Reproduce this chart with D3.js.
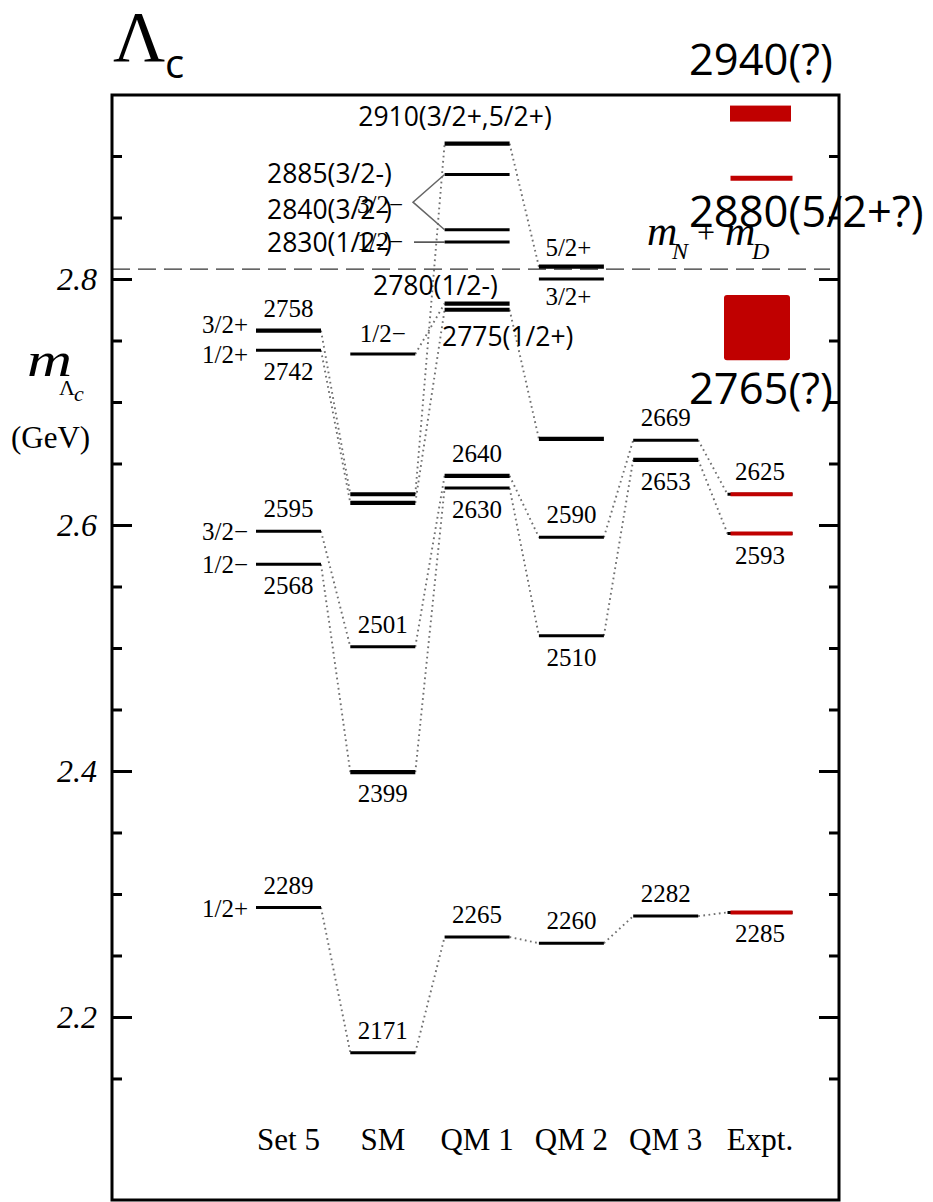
<!DOCTYPE html>
<html>
<head>
<meta charset="utf-8">
<script src="https://cdn.jsdelivr.net/npm/d3@7"></script>
<style>
  body { margin: 0; background: #fff; }
  svg { display: block; }
</style>
</head>
<body>
<script>
// Λc mass spectrum (MeV): model predictions and experimental states
const categories = ["Set 5", "SM", "QM 1", "QM 2", "QM 3", "Expt."];
const set5Levels = [2289, 2568, 2595, 2742, 2758];
const set5Spins  = ["1/2+", "1/2−", "3/2−", "1/2+", "3/2+"];
const smLevels   = [2171, 2399, 2501, 2618, 2625, 2739];
const qm1Levels  = [2265, 2630, 2640, 2775, 2780, 2830, 2840, 2885, 2910];
const qm2Levels  = [2260, 2510, 2590, 2670, 2800, 2810];
const qm3Levels  = [2282, 2653, 2669];
const exptLevels = [2285, 2593, 2625, 2882];
const exptBands  = [[2734, 2787], [2928, 2941]];
const thresholdMass = 2808;               // m_N + m_D
const tickMasses = d3.range(2150, 2901, 50);
const majorTickMasses = [2200, 2400, 2600, 2800];

// chains of levels joined by dotted lines: [from column, mass, to column, mass]
const links = [
  ["Set 5", 2289, "SM", 2171], ["SM", 2171, "QM 1", 2265], ["QM 1", 2265, "QM 2", 2260],
  ["QM 2", 2260, "QM 3", 2282], ["QM 3", 2282, "Expt.", 2285],
  ["Set 5", 2568, "SM", 2399], ["SM", 2399, "QM 1", 2630], ["QM 1", 2630, "QM 2", 2510],
  ["QM 2", 2510, "QM 3", 2653], ["QM 3", 2653, "Expt.", 2593],
  ["Set 5", 2595, "SM", 2501], ["SM", 2501, "QM 1", 2640], ["QM 1", 2640, "QM 2", 2590],
  ["QM 2", 2590, "QM 3", 2669], ["QM 3", 2669, "Expt.", 2625],
  ["Set 5", 2742, "SM", 2618], ["Set 5", 2758, "SM", 2625],
  ["SM", 2625, "QM 1", 2910], ["SM", 2618, "QM 1", 2775], ["SM", 2739, "QM 1", 2780],
  ["QM 1", 2775, "QM 2", 2670], ["QM 1", 2910, "QM 2", 2810]
];

// mass values printed next to their levels
const valueLabels = [
  ["Set 5", 2289, "above"], ["Set 5", 2568, "below"], ["Set 5", 2595, "above"],
  ["Set 5", 2742, "below"], ["Set 5", 2758, "above"],
  ["SM", 2171, "above"], ["SM", 2399, "below"], ["SM", 2501, "above"],
  ["QM 1", 2265, "above"], ["QM 1", 2630, "below"], ["QM 1", 2640, "above"],
  ["QM 2", 2260, "above"], ["QM 2", 2510, "below"], ["QM 2", 2590, "above"],
  ["QM 3", 2282, "above"], ["QM 3", 2653, "below"], ["QM 3", 2669, "above"],
  ["Expt.", 2285, "below"], ["Expt.", 2593, "below"], ["Expt.", 2625, "above"]
];

// state assignments written beside the QM 1 levels and the experimental states
const qm1Notes = [
  [2910, "3/2+,5/2+"], [2885, "3/2-"], [2840, "3/2-"], [2830, "1/2-"],
  [2780, "1/2-"], [2775, "1/2+"]
];
const exptNotes = [["2940", "?"], ["2880", "5/2+?"], ["2765", "?"]];

const levelColumns = [
  ["Set 5", set5Levels], ["SM", smLevels], ["QM 1", qm1Levels],
  ["QM 2", qm2Levels], ["QM 3", qm3Levels]
];

const W = 933, H = 1202;
const serif = "'Liberation Serif', 'Times New Roman', serif";
const sans = "'Open Sans', 'Noto Sans', sans-serif";
const red = "#c00000";

const frame = { left: 112, top: 95, right: 839, bottom: 1200 };

const y = d3.scaleLinear().domain([2051.2, 2949.6]).range([frame.bottom, frame.top]);
const x = d3.scalePoint().domain(categories).range([288.5, 760]);
const half = 32.5;

const heavy = {
  "Set 5": [2758], "SM": [2399, 2618, 2625], "QM 1": [2910, 2775, 2780, 2640],
  "QM 2": [2810, 2670], "QM 3": [2653]
};

const svg = d3.select("body").append("svg").attr("width", W).attr("height", H);

// dotted connectors between columns
svg.append("g").selectAll("line").data(links).join("line")
  .attr("x1", d => x(d[0]) + half).attr("y1", d => y(d[1]))
  .attr("x2", d => x(d[2]) - half).attr("y2", d => y(d[3]))
  .attr("stroke", "#707070").attr("stroke-width", 1.9)
  .attr("stroke-dasharray", "1.7,3.5").attr("stroke-linecap", "butt");

// threshold line
svg.append("line")
  .attr("x1", frame.left).attr("x2", 830)
  .attr("y1", y(thresholdMass)).attr("y2", y(thresholdMass))
  .attr("stroke", "#333").attr("stroke-width", 1.3).attr("stroke-dasharray", "18,8");

// model levels
const levelData = levelColumns.flatMap(([c, arr]) => arr.map(m => ({ c, m })));
svg.append("g").selectAll("line").data(levelData).join("line")
  .attr("x1", d => x(d.c) - half).attr("x2", d => x(d.c) + half)
  .attr("y1", d => y(d.m)).attr("y2", d => y(d.m))
  .attr("stroke", "#000")
  .attr("stroke-width", d => (heavy[d.c] || []).includes(d.m) ? 4.2 : 3);

// experimental levels: thin black underline with red bar
const ex = x("Expt.");
const exptG = svg.append("g");
exptG.selectAll("line.base").data(exptLevels.slice(0, 3)).join("line")
  .attr("class", "base")
  .attr("x1", ex - half).attr("x2", ex + half)
  .attr("y1", d => y(d)).attr("y2", d => y(d))
  .attr("stroke", "#000").attr("stroke-width", 3);
exptG.selectAll("line.red").data(exptLevels).join("line")
  .attr("class", "red")
  .attr("x1", ex - half + 3).attr("x2", ex + half)
  .attr("y1", d => y(d)).attr("y2", d => y(d))
  .attr("stroke", red).attr("stroke-width", (d, i) => i === 3 ? 5 : 4);
exptG.selectAll("rect").data(exptBands).join("rect")
  .attr("x", (d, i) => i === 0 ? ex - 36 : ex - 30)
  .attr("width", (d, i) => i === 0 ? 66 : 61)
  .attr("y", d => y(d[1])).attr("height", d => y(d[0]) - y(d[1]))
  .attr("rx", (d, i) => i === 0 ? 3 : 0)
  .attr("fill", red);

// axes (ticks point inward on both sides)
const axisL = d3.axisLeft(y).tickValues(tickMasses).tickSizeInner(-10).tickSizeOuter(0)
  .tickPadding(15)
  .tickFormat(d => majorTickMasses.includes(d) ? (d / 1000).toFixed(1) : "");
const gL = svg.append("g").attr("transform", `translate(${frame.left},0)`).call(axisL);
gL.select(".domain").remove();
gL.selectAll(".tick line").attr("stroke", "#000").attr("stroke-width", 3)
  .attr("x2", d => majorTickMasses.includes(d) ? 20 : 10);
gL.selectAll(".tick text").attr("font-family", serif).attr("font-style", "italic")
  .attr("font-size", 32).attr("fill", "#000").attr("dy", "0.34em");

const axisR = d3.axisRight(y).tickValues(tickMasses).tickSizeInner(-10).tickSizeOuter(0)
  .tickFormat("");
const gR = svg.append("g").attr("transform", `translate(${frame.right},0)`).call(axisR);
gR.select(".domain").remove();
gR.selectAll(".tick line").attr("stroke", "#000").attr("stroke-width", 3)
  .attr("x2", d => majorTickMasses.includes(d) ? -20 : -10);

// frame
svg.append("rect")
  .attr("x", frame.left).attr("y", frame.top)
  .attr("width", frame.right - frame.left).attr("height", frame.bottom - frame.top)
  .attr("fill", "none").attr("stroke", "#000").attr("stroke-width", 3);

// value labels
svg.append("g").selectAll("text").data(valueLabels).join("text")
  .attr("x", d => x(d[0]))
  .attr("y", d => y(d[1]) + (d[2] === "above" ? -14 : 30))
  .attr("text-anchor", "middle")
  .attr("font-family", serif).attr("font-size", 25)
  .text(d => d[1]);

// spin-parity labels of Set 5
const spinShift = { 2758: 2, 2742: 13 };
svg.append("g").selectAll("text").data(set5Levels).join("text")
  .attr("x", 248).attr("y", d => y(d) + (spinShift[d] ?? 9))
  .attr("text-anchor", "end")
  .attr("font-family", serif).attr("font-size", 25)
  .text((d, i) => set5Spins[i]);

const serifText = (tx, ty, s, anchor = "middle") =>
  svg.append("text").attr("x", tx).attr("y", ty).attr("text-anchor", anchor)
    .attr("font-family", serif).attr("font-size", 25).text(s);

serifText(x("SM"), y(2739) - 12, "1/2−");
serifText(x("QM 2") - 3, y(2810) - 11, "5/2+");
serifText(x("QM 2") - 3, y(2800) + 26, "3/2+");

// QM 1 negative-parity assignments with leader lines
serifText(357, y(2862) + 10, "3/2−", "start");
serifText(357, y(2830) + 8, "1/2−", "start");
const apexX = 413, apexY = (y(2885) + y(2840)) / 2;
const qL = x("QM 1") - half;
svg.append("path")
  .attr("d", `M${qL},${y(2885)}L${apexX},${apexY}L${qL},${y(2840)}`)
  .attr("fill", "none").attr("stroke", "#666").attr("stroke-width", 1.5);
svg.append("line")
  .attr("x1", 414).attr("x2", qL).attr("y1", y(2830)).attr("y2", y(2830))
  .attr("stroke", "#222").attr("stroke-width", 1.3);

// column captions
svg.append("g").selectAll("text").data(categories).join("text")
  .attr("x", d => x(d)).attr("y", 1150)
  .attr("text-anchor", "middle")
  .attr("font-family", serif).attr("font-size", 31)
  .text(d => d);

// threshold label m_N + m_D
const thr = svg.append("g").attr("font-family", serif).attr("font-style", "italic");
thr.append("text").attr("x", 647).attr("y", 245).attr("font-size", 42).text("m");
thr.append("text").attr("x", 672).attr("y", 259).attr("font-size", 24).text("N");
thr.append("text").attr("x", 697).attr("y", 243).attr("font-size", 32)
  .attr("font-style", "normal").text("+");
thr.append("text").attr("x", 725).attr("y", 245).attr("font-size", 42).text("m");
thr.append("text").attr("x", 752).attr("y", 259).attr("font-size", 24).text("D");

// vertical axis title
const yt = svg.append("g").attr("font-family", serif);
yt.append("text").attr("transform", "translate(27,376) scale(1.3,1)")
  .attr("font-style", "italic").attr("font-size", 48).text("m");
yt.append("text").attr("x", 59).attr("y", 395).attr("font-size", 22).text("Λ");
yt.append("text").attr("x", 74).attr("y", 401).attr("font-size", 22)
  .attr("font-style", "italic").text("c");
yt.append("text").attr("x", 11).attr("y", 448).attr("font-size", 31).text("(GeV)");

// title
svg.append("text").attr("x", 113).attr("y", 61)
  .attr("font-family", serif).attr("font-size", 72).text("Λ");
svg.append("text").attr("x", 165).attr("y", 78)
  .attr("font-family", sans).attr("font-size", 40).text("c");

// state annotations in QM 1
const notePos = {
  2910: { x: 455, dy: -18, anchor: "middle" },
  2885: { x: 267, dy: 9, anchor: "start" },
  2840: { x: 267, dy: -11, anchor: "start" },
  2830: { x: 267, dy: 10, anchor: "start" },
  2780: { x: 373, dy: -9, anchor: "start" },
  2775: { x: 442, dy: 36, anchor: "start" }
};
svg.append("g").selectAll("text").data(qm1Notes).join("text")
  .attr("x", d => notePos[d[0]].x)
  .attr("y", d => y(d[0]) + notePos[d[0]].dy)
  .attr("text-anchor", d => notePos[d[0]].anchor)
  .attr("font-family", sans).attr("font-size", 26.5).attr("fill", "#000")
  .text(d => `${d[0]}(${d[1]})`);

// experimental state annotations
const exptNoteY = [75, 227, 404];
svg.append("g").selectAll("text").data(exptNotes).join("text")
  .attr("x", 689).attr("y", (d, i) => exptNoteY[i])
  .attr("font-family", sans).attr("font-size", 43.5).attr("fill", "#000")
  .text(d => `${d[0]}(${d[1]})`);
</script>
</body>
</html>
